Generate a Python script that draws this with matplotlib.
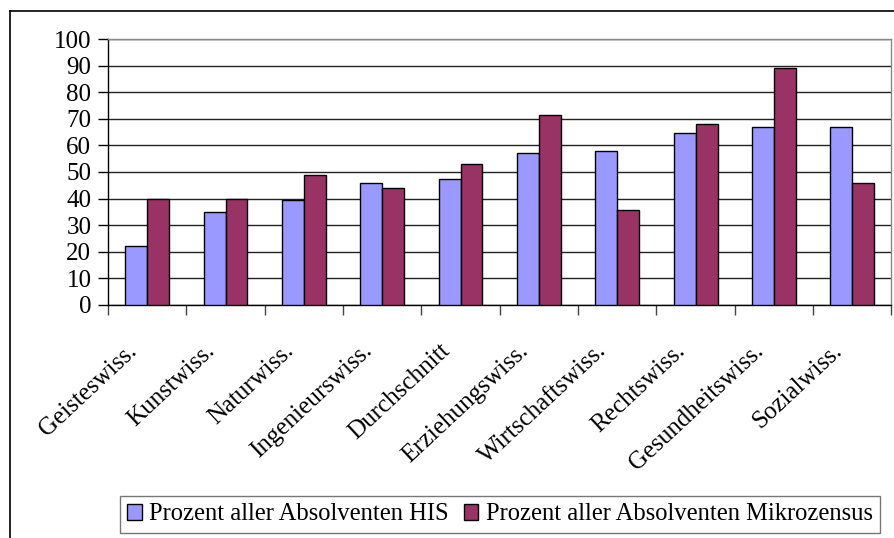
import matplotlib
matplotlib.use("Agg")
import matplotlib.pyplot as plt
import matplotlib.transforms as mtrans
from matplotlib.lines import Line2D
import numpy as np

plt.rcParams['font.family'] = ['Liberation Serif', 'DejaVu Serif']

faecher = ['Geisteswiss.', 'Kunstwiss.', 'Naturwiss.', 'Ingenieurswiss.', 'Durchschnitt',
           'Erziehungswiss.', 'Wirtschaftswiss.', 'Rechtswiss.', 'Gesundheitswiss.', 'Sozialwiss.']
his = [22, 35, 39.4, 46, 47.5, 57, 58, 64.5, 67, 67]
mikro = [40, 40, 49, 43.8, 53, 71.5, 35.6, 68, 89.2, 46]
namen = ['Prozent aller Absolventen HIS', 'Prozent aller Absolventen Mikrozensus']

fig = plt.figure(figsize=(8.95, 5.38), dpi=100)
ax = fig.add_axes([0.1207, 0.4331, 0.996 - 0.1207, 0.9275 - 0.4331])

x = np.arange(len(faecher))
b = 0.28
ax.bar(x - b / 2, his, b, color='#9999FF', edgecolor='black', linewidth=1, label=namen[0], zorder=3)
ax.bar(x + b / 2, mikro, b, color='#993366', edgecolor='black', linewidth=1, label=namen[1], zorder=3)

ax.set_xlim(-0.5, len(faecher) - 0.5)
ax.set_ylim(0, 100)
ax.set_yticks(range(0, 101, 10))
ax.yaxis.grid(True, color='#222222', linewidth=1)
ax.set_axisbelow(True)

ax.set_xticks(x)
ax.set_xticklabels(faecher, rotation=43, ha='right', va='top', rotation_mode='anchor')
ax.set_xticks(np.arange(len(faecher) + 1) - 0.5, minor=True)
ax.tick_params(axis='x', which='major', length=0, pad=12, labelsize=18)
ax.tick_params(axis='x', which='minor', length=7, width=1, color='#444444')
ax.tick_params(axis='y', length=7, width=1, labelsize=18, pad=5)

# Beschriftungen etwas nach links unten schieben
verschiebung = mtrans.ScaledTranslation(-0.21, -0.18, fig.dpi_scale_trans)
for lbl in ax.get_xticklabels():
    lbl.set_transform(lbl.get_transform() + verschiebung)

ax.spines['top'].set_color('#888888')
ax.spines['right'].set_color('#888888')
ax.spines['left'].set_color('black')
ax.spines['bottom'].set_color('black')
for s in ax.spines.values():
    s.set_linewidth(1)

# Rahmen um das Diagramm
fig.add_artist(Line2D([10 / 895, 10 / 895], [0, 1 - 11 / 538], color='black', linewidth=1.2))
fig.add_artist(Line2D([10 / 895, 1], [1 - 11 / 538, 1 - 11 / 538], color='black', linewidth=1.2))

leg = fig.legend(loc='center', bbox_to_anchor=(500 / 895, 1 - 514.5 / 538), ncol=2,
                 fontsize=17.7, frameon=True, fancybox=False, edgecolor='#555555',
                 handlelength=0.6, handleheight=0.6, handletextpad=0.3, columnspacing=0.6,
                 borderpad=0.3, borderaxespad=0)
leg.get_frame().set_linewidth(1)

fig.savefig('out.png', dpi=100)
